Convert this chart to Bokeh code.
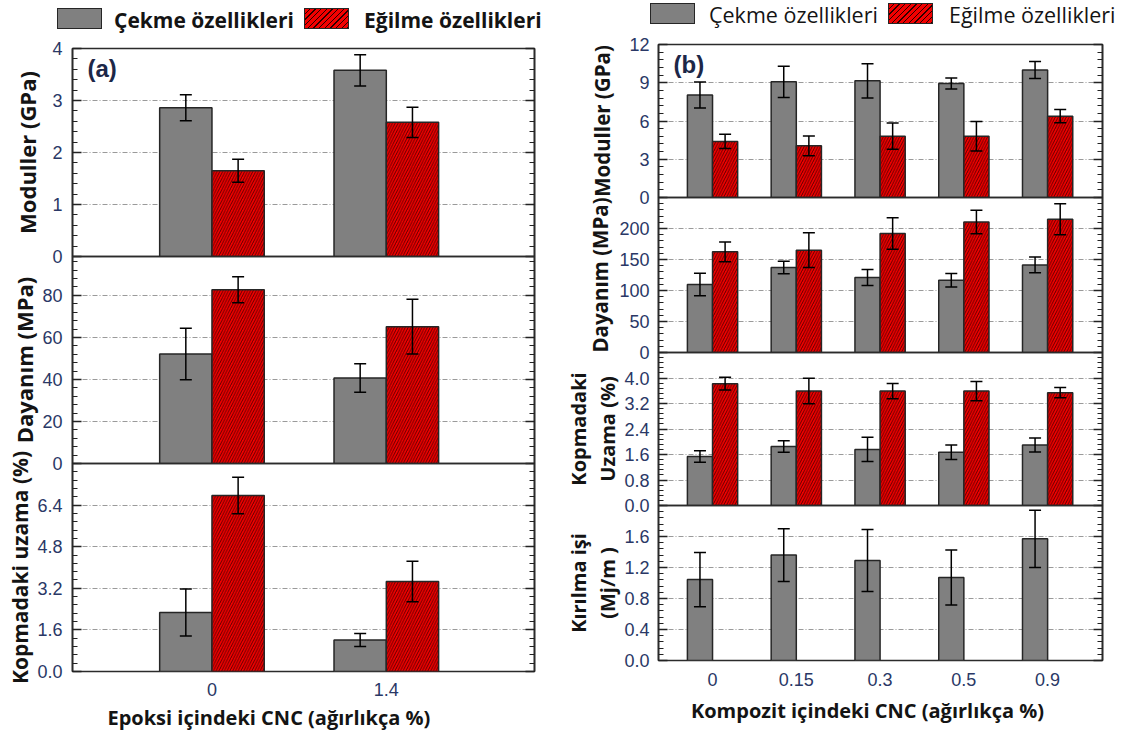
import numpy as np
from bokeh.plotting import figure
from bokeh.layouts import row, column
from bokeh.models import (ColumnDataSource, Whisker, TeeHead, Range1d, FixedTicker,
                          LinearAxis, Label, PrintfTickFormatter, CustomJSTickFormatter, Div)
from bokeh.embed import file_html
from bokeh.resources import INLINE

# ---------------- (a) CNC content in epoxy (wt %) ----------------
a_cnc = ["0", "1.4"]
a_mod_tensile = [2.86, 3.58]
a_mod_tensile_err = [0.25, 0.30]
a_mod_flex = [1.65, 2.58]
a_mod_flex_err = [0.22, 0.29]
a_str_tensile = [52.1, 40.7]
a_str_tensile_err = [12.3, 6.8]
a_str_flex = [82.7, 65.1]
a_str_flex_err = [6.2, 13.0]
a_elong_tensile = [2.27, 1.21]
a_elong_tensile_err = [0.90, 0.25]
a_elong_flex = [6.77, 3.46]
a_elong_flex_err = [0.70, 0.78]

# ---------------- (b) CNC content in composite (wt %) ----------------
b_cnc = ["0", "0.15", "0.3", "0.5", "0.9"]
b_mod_tensile = [8.04, 9.07, 9.15, 8.94, 10.0]
b_mod_tensile_err = [1.02, 1.22, 1.34, 0.43, 0.66]
b_mod_flex = [4.40, 4.05, 4.81, 4.81, 6.38]
b_mod_flex_err = [0.56, 0.77, 1.03, 1.16, 0.52]
b_str_tensile = [109.7, 137.0, 121.0, 116.6, 141.3]
b_str_tensile_err = [18.0, 10.0, 13.0, 11.0, 12.7]
b_str_flex = [162.3, 165.0, 191.9, 210.6, 215.0]
b_str_flex_err = [16.0, 28.0, 25.5, 19.0, 25.0]
b_elong_tensile = [1.54, 1.85, 1.76, 1.67, 1.90]
b_elong_tensile_err = [0.18, 0.18, 0.38, 0.23, 0.22]
b_elong_flex = [3.82, 3.59, 3.59, 3.59, 3.54]
b_elong_flex_err = [0.20, 0.40, 0.24, 0.30, 0.16]
b_work = [1.045, 1.36, 1.29, 1.07, 1.57]
b_work_err = [0.35, 0.34, 0.40, 0.355, 0.37]

legend_labels = ["Çekme özellikleri", "Eğilme özellikleri"]

# ---------------- styling ----------------
GRAY = "#808080"
RED = "#f20000"
HATCH = "#2a0000"
EDGE = "#262626"
TICK_COLOR = "#2a3866"
LABEL_COLOR = "#141414"
TEXT_FONT = "Open Sans"
NUM_FONT = "Liberation Sans"
OVER = 14          # overlap between stacked panels so edge tick labels are not cut
BAR_W = 0.3
TENSILE_STYLE = dict(fill_color=GRAY, line_color=EDGE, line_width=1.5)
FLEX_STYLE = dict(fill_color=RED, hatch_pattern="/", hatch_color=HATCH,
                  hatch_scale=5.5, hatch_weight=0.75, line_color=EDGE, line_width=1.5)


def make_panel(cats, tensile, tensile_err, flex, flex_err, y_end, major_step, fmt,
               ylabel, x_range, fw, fh, left, right, top, bottom,
               label_standoff=8, label_size="21px", line_height=1.2, tick_standoff=10,
               top_label=False, show_x=False, x_standoff=6, first=False):
    p = figure(frame_width=fw, frame_height=fh,
               x_range=Range1d(*x_range), y_range=Range1d(0, y_end),
               x_axis_location="below" if show_x else None,
               toolbar_location=None, output_backend="svg",
               min_border_left=left, min_border_right=right,
               min_border_top=top, min_border_bottom=bottom,
               background_fill_color=None, border_fill_color=None,
               outline_line_color="#2b2b2b", outline_line_width=1.6)
    if not first:
        p.margin = (-2 * OVER, 0, 0, 0)

    n = len(cats)
    centers = np.arange(1, n + 1, dtype=float)

    # tick positions for the value axis
    stop = y_end + 1e-9 if top_label else y_end * 0.999
    majors = [round(v, 6) for v in np.arange(0, stop, major_step)]
    minors = [round(v, 6) for v in np.arange(0, y_end + 1e-9, major_step / 5)]
    ticker = FixedTicker(ticks=majors, minor_ticks=minors)

    series = [(tensile, tensile_err, -BAR_W / 2, TENSILE_STYLE),
              (flex, flex_err, BAR_W / 2, FLEX_STYLE)]
    for vals, errs, shift, style in series:
        if vals is None:
            continue
        vals = np.asarray(vals, dtype=float)
        errs = np.asarray(errs, dtype=float)
        src = ColumnDataSource(dict(x=centers + shift, top=vals,
                                    upper=vals + errs, lower=vals - errs))
        p.vbar(x="x", top="top", width=BAR_W, source=src, **style)
        p.add_layout(Whisker(source=src, base="x", upper="upper", lower="lower",
                             level="overlay", line_color="black", line_width=1.5,
                             upper_head=TeeHead(size=12, line_width=1.5, line_color="black"),
                             lower_head=TeeHead(size=12, line_width=1.5, line_color="black")))

    # value axis on the left
    ax = p.yaxis[0]
    ax.ticker = ticker
    ax.formatter = PrintfTickFormatter(format=fmt)
    ax.axis_line_color = "#2b2b2b"
    ax.axis_line_width = 1.6
    ax.major_tick_in = 9
    ax.major_tick_out = 0
    ax.minor_tick_in = 5
    ax.minor_tick_out = 0
    ax.major_tick_line_color = "#222222"
    ax.minor_tick_line_color = "#222222"
    ax.major_tick_line_width = 1.3
    ax.minor_tick_line_width = 1.2
    ax.major_label_standoff = tick_standoff
    ax.major_label_text_font = NUM_FONT
    ax.major_label_text_font_size = "18px"
    ax.major_label_text_color = TICK_COLOR
    ax.axis_label = ylabel
    ax.axis_label_text_font = TEXT_FONT
    ax.axis_label_text_font_style = "bold"
    ax.axis_label_text_font_size = label_size
    ax.axis_label_text_line_height = line_height
    ax.axis_label_text_color = LABEL_COLOR
    ax.axis_label_standoff = label_standoff

    # mirrored ticks on the right, without labels
    rax = LinearAxis(ticker=ticker, formatter=CustomJSTickFormatter(code="return ''"),
                     axis_line_color="#2b2b2b", axis_line_width=1.6,
                     major_tick_in=9, major_tick_out=0, minor_tick_in=5, minor_tick_out=0,
                     major_tick_line_color="#222222", minor_tick_line_color="#222222",
                     major_tick_line_width=1.3, minor_tick_line_width=1.2,
                     major_label_standoff=0)
    p.add_layout(rax, "right")

    p.xgrid.visible = False
    p.ygrid.ticker = FixedTicker(ticks=majors)
    p.ygrid.grid_line_color = "#9a9a9a"
    p.ygrid.grid_line_dash = "5 2 1 2"
    p.ygrid.grid_line_width = 1

    if show_x:
        xa = p.xaxis[0]
        xa.ticker = FixedTicker(ticks=list(centers))
        xa.major_label_overrides = {float(c): lab for c, lab in zip(centers, cats)}
        xa.axis_line_color = None
        xa.major_tick_line_color = None
        xa.minor_tick_line_color = None
        xa.major_label_standoff = x_standoff
        xa.major_label_text_font = NUM_FONT
        xa.major_label_text_font_size = "18px"
        xa.major_label_text_color = TICK_COLOR

    return p


def header(width, height, key_lefts, text_lefts, top, bold, size):
    """Legend strip above a column: one swatch + label per series."""
    swatches = [
        f"background:{GRAY};",
        f"background:repeating-linear-gradient(135deg,{RED} 0px,{RED} 3px,"
        f"{HATCH} 3px,{HATCH} 4px);",
    ]
    weight = 700 if bold else 400
    parts = []
    for lab, sw, kx, tx in zip(legend_labels, swatches, key_lefts, text_lefts):
        parts.append(
            f'<div style="position:absolute;left:{kx}px;top:{top}px;width:45px;height:21px;'
            f'border:1.5px solid {EDGE};{sw}"></div>')
        parts.append(
            f'<div style="position:absolute;left:{tx}px;top:{top}px;height:24px;'
            f'line-height:24px;white-space:nowrap;font-family:\'{TEXT_FONT}\';'
            f'font-weight:{weight};font-size:{size};color:{LABEL_COLOR};">{lab}</div>')
    html = (f'<div style="position:relative;width:{width}px;height:{height}px;">'
            + "".join(parts) + "</div>")
    return Div(text=html, width=width, height=height, margin=0)


def blank(width, height):
    f = figure(width=width, height=height, x_range=Range1d(0, 1), y_range=Range1d(0, 1),
               x_axis_location=None, y_axis_location=None, toolbar_location=None,
               output_backend="svg", min_border=0, outline_line_color=None,
               background_fill_color=None, border_fill_color=None)
    f.grid.visible = False
    return f


def footer(width, height, text, x, y):
    # the footer frame lines up with the panel frames above it
    f = blank(width, height)
    f.add_layout(Label(x=x, y=y, x_units="screen", y_units="screen", text=text,
                       text_font=TEXT_FONT, text_font_style="bold", text_font_size="20px",
                       text_color=LABEL_COLOR, text_align="center", text_baseline="middle"))
    return f


def panel_tag(p, text, fh):
    p.add_layout(Label(x=15, y=fh - 6, x_units="screen", y_units="screen", text=text,
                       text_font=NUM_FONT, text_font_style="bold", text_font_size="24px",
                       text_color="#1c2748", text_baseline="top", text_align="left"))


# ---------------- left column: (a) ----------------
AXR = (0.2, 2.85)
AL, AR, AW = 72, 26, 462

ha = header(560, 34, [57, 304], [114, 364], 8, True, "21px")
a1 = make_panel(a_cnc, a_mod_tensile, a_mod_tensile_err, a_mod_flex, a_mod_flex_err,
                4, 1, "%d", "Moduller (GPa)", AXR, AW, 208, AL, AR, OVER, OVER,
                label_standoff=7, label_size="22px", top_label=True, first=True)
a2 = make_panel(a_cnc, a_str_tensile, a_str_tensile_err, a_str_flex, a_str_flex_err,
                98.5, 20, "%d", "Dayanım (MPa)", AXR, AW, 207, AL, AR, OVER, OVER,
                label_standoff=0, label_size="22px")
a3 = make_panel(a_cnc, a_elong_tensile, a_elong_tensile_err, a_elong_flex, a_elong_flex_err,
                8, 1.6, "%.1f", "Kopmadaki uzama (%)", AXR, AW, 208, AL, AR, OVER, 34,
                label_standoff=0, label_size="21px", show_x=True, x_standoff=5)
panel_tag(a1, "(a)", 208)
fa = footer(560, 30, "Epoksi içindeki CNC (ağırlıkça  %)", 199, 18)

# ---------------- right column: (b) ----------------
BXR = (0.355, 5.655)
BL, BR, BW = 98, 29, 444

hb = header(571, 30, [90, 328], [149, 389], 3, False, "21.5px")
b1 = make_panel(b_cnc, b_mod_tensile, b_mod_tensile_err, b_mod_flex, b_mod_flex_err,
                12, 3, "%d", "Moduller (GPa)", BXR, BW, 153, BL, BR, OVER, OVER,
                label_standoff=10, label_size="20.5px", tick_standoff=9,
                top_label=True, first=True)
b2 = make_panel(b_cnc, b_str_tensile, b_str_tensile_err, b_str_flex, b_str_flex_err,
                250, 50, "%d", "Dayanım (MPa)", BXR, BW, 155, BL, BR, OVER, OVER,
                label_standoff=2, label_size="20.5px", tick_standoff=9)
b3 = make_panel(b_cnc, b_elong_tensile, b_elong_tensile_err, b_elong_flex, b_elong_flex_err,
                4.8, 0.8, "%.1f", "Kopmadaki\nUzama (%)", BXR, BW, 153, BL, BR, OVER, OVER,
                label_standoff=0, label_size="20px", line_height=1.1, tick_standoff=9)
b4 = make_panel(b_cnc, b_work, b_work_err, None, None,
                2.0, 0.4, "%.1f", "Kırılma işi\n(Mj/m )", BXR, BW, 155, BL, BR, OVER, 34,
                label_standoff=0, label_size="20px", line_height=1.1, tick_standoff=9,
                show_x=True, x_standoff=6)
panel_tag(b1, "(b)", 153)
fb = footer(571, 41, "Kompozit içindeki CNC (ağırlıkça %)", 209, 25)

layout = row(column(ha, a1, a2, a3, fa), column(hb, b1, b2, b3, b4, fb))
open("out.html", "w").write(file_html(layout, INLINE))
